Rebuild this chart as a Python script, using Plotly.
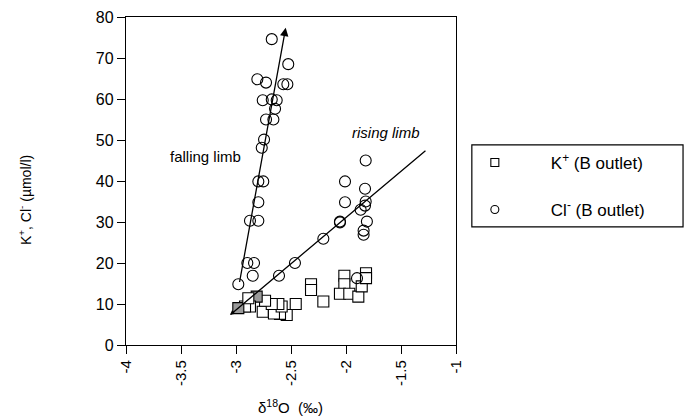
import plotly.graph_objects as go

# K+ concentrations at the B outlet (umol/l) against delta-18O (permil)
k_d18o = [-2.318, -2.318, -2.206, -2.015, -2.015, -2.055, -2.457, -2.539, -2.600,
          -2.655, -2.757, -2.585, -2.615, -2.675, -2.736, -2.812, -2.873, -2.918,
          -2.979, -2.888, -1.970, -1.888, -1.857, -1.818, -1.818]
k_conc = [14.8, 13.4, 10.6, 16.9, 14.8, 12.5, 10.0, 7.3, 7.6,
          7.7, 8.1, 9.4, 10.0, 10.0, 10.8, 11.8, 9.4, 9.4,
          9.0, 11.4, 12.5, 11.8, 14.3, 17.5, 16.3]

# Cl- concentrations at the B outlet (umol/l) against delta-18O (permil)
cl_d18o = [-2.675, -2.525, -2.806, -2.727, -2.570, -2.533, -2.757, -2.630, -2.675,
           -2.645, -2.727, -2.660, -2.745, -2.766, -2.797, -2.752, -2.797, -2.873,
           -2.797, -2.897, -2.836, -2.848, -2.979,
           -2.609, -2.464, -2.206, -2.055, -2.009, -2.009, -1.821, -1.827, -1.821,
           -1.867, -1.827, -2.055, -1.810, -1.840, -1.840, -1.900]
cl_conc = [74.6, 68.5, 64.8, 64.0, 63.6, 63.6, 59.7, 59.7, 59.9,
           57.6, 55.0, 55.0, 50.1, 48.1, 39.9, 39.9, 34.8, 30.3,
           30.3, 20.0, 20.0, 16.9, 14.8,
           16.9, 20.0, 25.9, 30.1, 34.8, 39.9, 45.0, 38.1, 35.0,
           33.0, 34.0, 29.9, 30.1, 27.9, 26.9, 16.3]

# Trend lines for the two limbs: [tail, head]
falling_x = [-2.970, -2.548]
falling_y = [15.0, 77.4]
rising_x = [-1.264, -3.055]
rising_y = [47.7, 7.3]

x_ticks = [-4, -3.5, -3, -2.5, -2, -1.5, -1]
y_ticks = [0, 10, 20, 30, 40, 50, 60, 70, 80]

k_name = "K<sup>+</sup> (B outlet)"
cl_name = "Cl<sup>-</sup> (B outlet)"

shaded_k = {15, 18}
k_fill = ["#9a9a9a" if i in shaded_k else "white" for i in range(len(k_d18o))]

FONT = "Liberation Sans, Arial, sans-serif"
OUTLINE = dict(color="black", width=1.1)

fig = go.Figure()
fig.add_trace(go.Scatter(
    x=k_d18o, y=k_conc, mode="markers", name=k_name, showlegend=False,
    marker=dict(symbol="square", size=11, color=k_fill, line=OUTLINE),
))
fig.add_trace(go.Scatter(
    x=cl_d18o, y=cl_conc, mode="markers", name=cl_name, showlegend=False,
    marker=dict(symbol="circle", size=11, color="rgba(255,255,255,0)",
                line=OUTLINE),
))
# legend entries with smaller key symbols
fig.add_trace(go.Scatter(
    x=[None], y=[None], mode="markers", name=k_name, legendgroup="k",
    marker=dict(symbol="square", size=8, color="white", line=OUTLINE),
))
fig.add_trace(go.Scatter(
    x=[None], y=[None], mode="markers", name=cl_name, legendgroup="cl",
    marker=dict(symbol="circle", size=8, color="white", line=OUTLINE),
))

annotations = [
    dict(x=falling_x[1], y=falling_y[1], ax=falling_x[0], ay=falling_y[0],
         xref="x", yref="y", axref="x", ayref="y", text="", showarrow=True,
         arrowhead=2, arrowsize=1.3, arrowwidth=1.3, arrowcolor="black"),
    dict(x=rising_x[1], y=rising_y[1], ax=rising_x[0], ay=rising_y[0],
         xref="x", yref="y", axref="x", ayref="y", text="", showarrow=True,
         arrowhead=2, arrowsize=0.75, arrowwidth=1.3, arrowcolor="black"),
    dict(x=-3.273, y=46.0, xref="x", yref="y", text="falling limb",
         showarrow=False, font=dict(family=FONT, size=15, color="black")),
    dict(x=-1.636, y=51.8, xref="x", yref="y", text="<i>rising limb</i>",
         showarrow=False, font=dict(family=FONT, size=15, color="black")),
    # axis titles
    dict(x=-112 / 330, y=(345 - 200) / 328, xref="paper", yref="paper",
         text="K<sup>+</sup>, Cl<sup>-</sup> (µmol/l)", textangle=-90,
         showarrow=False, font=dict(family=FONT, size=14, color="black")),
    dict(x=(290 - 126) / 330, y=(345 - 418) / 328, xref="paper", yref="paper",
         yanchor="bottom", text="δ<sup>18</sup>O  (‰)", showarrow=False,
         font=dict(family=FONT, size=15, color="black")),
]

fig.update_layout(
    width=685, height=418,
    margin=dict(l=126, r=229, t=17, b=73),
    paper_bgcolor="white", plot_bgcolor="white",
    font=dict(family=FONT, size=14, color="black"),
    showlegend=True,
    legend=dict(x=0.948, y=0.61, xanchor="left", yanchor="top",
                bgcolor="rgba(0,0,0,0)", borderwidth=0,
                itemwidth=102, tracegroupgap=22,
                font=dict(family=FONT, size=17, color="black")),
    annotations=annotations,
    shapes=[dict(type="rect", xref="paper", yref="paper",
                 x0=1.048, x1=1.688, y0=0.360, y1=0.610,
                 line=dict(color="black", width=1.2))],
)

fig.update_xaxes(
    range=[-4, -1], tickvals=x_ticks, ticktext=[f"{v:g}" for v in x_ticks],
    tickangle=-90, ticks="outside", ticklen=8, tickwidth=1, tickcolor="black",
    showline=True, linecolor="black", linewidth=1.3, mirror=True,
    showgrid=False, zeroline=False, automargin=False,
    tickfont=dict(family=FONT, size=15),
)
fig.update_yaxes(
    range=[0, 80], tickvals=y_ticks, ticks="outside", ticklen=8, tickwidth=1,
    tickcolor="black", showline=True, linecolor="black", linewidth=1.3,
    mirror=True, showgrid=False, zeroline=False, automargin=False,
    tickfont=dict(family=FONT, size=16),
)

fig.write_html("out.html")
